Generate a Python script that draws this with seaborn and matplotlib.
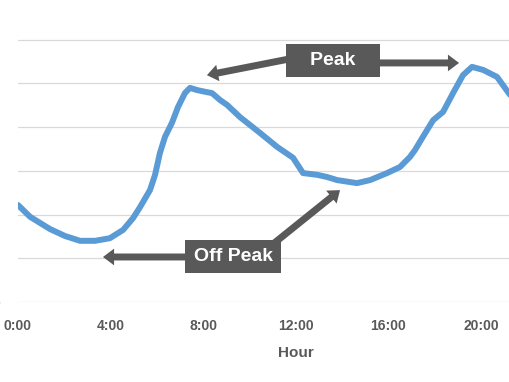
import matplotlib
matplotlib.use("Agg")
import matplotlib.pyplot as plt
import seaborn as sns

# hourly load profile (arbitrary units, gridlines every 10)
hours = [0, 0.52, 1.38, 2.03, 2.68, 3.33, 3.97, 4.54, 4.97, 5.27, 5.70, 5.92, 6.13, 6.35,
         6.65, 6.91, 7.21, 7.43, 7.73, 8.08, 8.38, 8.73, 9.03, 9.59, 10.45, 11.19, 11.88,
         12.31, 12.92, 13.35, 13.78, 14.64, 15.21, 15.94, 16.50, 16.93, 17.15, 17.49, 17.93,
         18.36, 18.79, 19.22, 19.61, 20.09, 20.69, 21.25, 21.6]
load = [22.2, 19.5, 16.7, 15.1, 14.0, 14.0, 14.6, 16.5, 19.2, 21.7, 25.6, 29.1, 34.1, 37.8,
        41.0, 44.6, 47.8, 49.0, 48.5, 48.1, 47.8, 46.2, 45.1, 42.3, 38.7, 35.5, 33.0,
        29.5, 29.1, 28.6, 27.9, 27.2, 27.9, 29.5, 30.9, 33.2, 34.8, 37.8, 41.6,
        43.5, 47.8, 51.9, 53.8, 53.1, 51.5, 47.4, 44.0]

xticks = [0, 4, 8, 12, 16, 20]
xtick_labels = ["0:00", "4:00", "8:00", "12:00", "16:00", "20:00"]
yticks = [0, 10, 20, 30, 40, 50, 60]

sns.set_theme(style="whitegrid")
plt.rcParams["font.family"] = ["Liberation Sans", "DejaVu Sans"]

fig = plt.figure(figsize=(5.1, 3.82), dpi=100)
ax = fig.add_axes([18 / 510, 80 / 382, 1 - 18 / 510, 302 / 382])

sns.lineplot(x=hours, y=load, ax=ax, color="#5B9BD5", linewidth=4.3,
             solid_capstyle="round", solid_joinstyle="round")

ax.set_xlim(0, 21.25)
ax.set_ylim(0, 69.1)
ax.set_xticks(xticks)
ax.set_xticklabels(xtick_labels)
ax.set_yticks(yticks)
ax.set_yticklabels([str(v) for v in yticks])
ax.grid(axis="x", visible=False)
ax.grid(axis="y", color="#D9D9D9", linewidth=0.9)
for s in ax.spines.values():
    s.set_visible(False)
ax.tick_params(axis="x", length=0, pad=12, labelsize=10, labelcolor="#595959")
ax.tick_params(axis="y", length=0, pad=13, labelsize=10, labelcolor="#595959")
for lab in ax.get_xticklabels() + ax.get_yticklabels():
    lab.set_fontweight("bold")

ax.set_xlabel("Hour", fontsize=11, fontweight="bold", color="#595959")
ax.xaxis.set_label_coords(12 / 21.25, -0.145)

grey = "#595959"
arrow = dict(width=5, headwidth=12, headlength=8, shrink=0, color=grey, lw=0)

# Peak callout
ax.annotate("", xy=(8.16, 51.9), xytext=(11.9, 55.8), arrowprops=arrow, zorder=4)
ax.annotate("", xy=(19.05, 54.7), xytext=(15.3, 54.7), arrowprops=arrow, zorder=4)
ax.text(13.61, 55.3, "   Peak   ", ha="center", va="center", fontsize=14,
        fontweight="bold", color="white", zorder=5,
        bbox=dict(boxstyle="square,pad=0.42", fc=grey, ec="none"))

# Off Peak callout
ax.annotate("", xy=(3.67, 10.3), xytext=(8.0, 10.3), arrowprops=arrow, zorder=4)
ax.annotate("", xy=(13.91, 25.6), xytext=(10.6, 11.5), arrowprops=arrow, zorder=4)
ax.text(9.29, 10.4, "Off Peak", ha="center", va="center", fontsize=14,
        fontweight="bold", color="white", zorder=5,
        bbox=dict(boxstyle="square,pad=0.42", fc=grey, ec="none"))

fig.savefig("out.png", dpi=100)
